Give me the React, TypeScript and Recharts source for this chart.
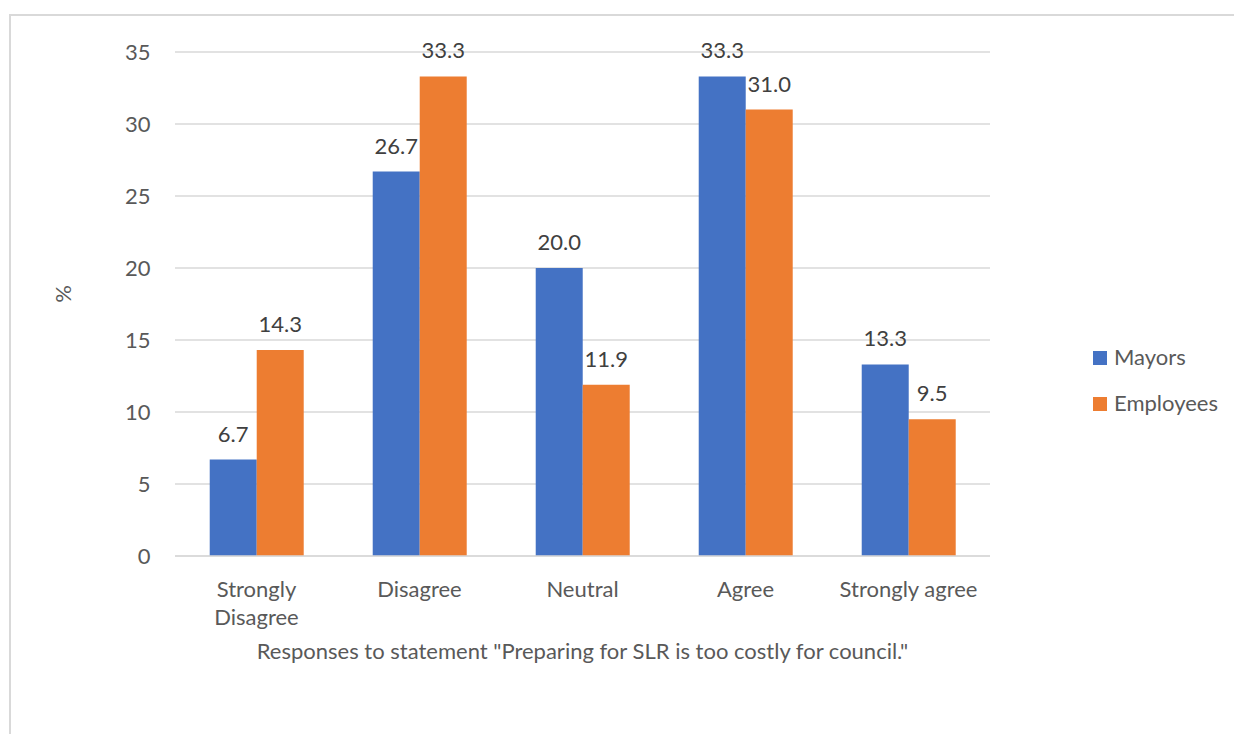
import { Bar, BarChart, CartesianGrid, LabelList, Legend, XAxis, YAxis } from "recharts";

const categories = ["Strongly Disagree", "Disagree", "Neutral", "Agree", "Strongly agree"];
const mayors = [6.7, 26.7, 20.0, 33.3, 13.3];
const employees = [14.3, 33.3, 11.9, 31.0, 9.5];
const yTicks = [0, 5, 10, 15, 20, 25, 30, 35];

const seriesOrder = ["Mayors", "Employees"];
const xTitle = 'Responses to statement "Preparing for SLR is too costly for council."';
const yTitle = "%";

const data = categories.map((name, i) => ({
  name,
  mayors: mayors[i],
  employees: employees[i],
}));

const FONT = "Lato, 'Open Sans', sans-serif";
const FS = 22;
const AXIS_TEXT = "#595959";
const LABEL_TEXT = "#404040";
const GRID = "#d9d9d9";
const BLUE = "#4472C4";
const ORANGE = "#ED7D31";

let measureCtx: CanvasRenderingContext2D | null = null;
function textWidth(s: string) {
  if (!measureCtx) measureCtx = document.createElement("canvas").getContext("2d");
  if (!measureCtx) return s.length * FS * 0.5;
  measureCtx.font = `${FS}px ${FONT}`;
  return measureCtx.measureText(s).width;
}

// greedy word wrap, like the category band would do
function wrapWords(label: string, maxWidth: number) {
  const lines: string[] = [];
  let cur = "";
  for (const w of label.split(" ")) {
    const next = cur ? `${cur} ${w}` : w;
    if (cur && textWidth(next) > maxWidth) {
      lines.push(cur);
      cur = w;
    } else {
      cur = next;
    }
  }
  if (cur) lines.push(cur);
  return lines;
}

function CategoryTick(props: any) {
  const { x, y, payload } = props;
  const lines = wrapWords(String(payload.value), 158);
  return (
    <text x={x} y={y} textAnchor="middle" fill={AXIS_TEXT} fontSize={FS} fontFamily={FONT}>
      {lines.map((line, i) => (
        <tspan key={i} x={x} dy={i === 0 ? "0.71em" : 28}>
          {line}
        </tspan>
      ))}
    </text>
  );
}

function PercentLabel(props: any) {
  const vb = props.viewBox;
  const cx = vb.x + 62;
  const cy = vb.y + vb.height / 2 - 10;
  return (
    <text
      x={cx}
      y={cy}
      transform={`rotate(-90, ${cx}, ${cy})`}
      textAnchor="middle"
      dominantBaseline="central"
      fill={AXIS_TEXT}
      fontSize={FS}
      fontFamily={FONT}
    >
      {yTitle}
    </text>
  );
}

function SideLegend(props: any) {
  const items = [...(props.payload || [])].sort(
    (a: any, b: any) => seriesOrder.indexOf(a.value) - seriesOrder.indexOf(b.value)
  );
  return (
    <div style={{ fontFamily: FONT, fontSize: FS, color: AXIS_TEXT }}>
      {items.map((item: any) => (
        <div key={item.value} style={{ display: "flex", alignItems: "center", height: 46 }}>
          <span
            style={{
              display: "inline-block",
              width: 14,
              height: 14,
              background: item.color,
              marginRight: 7,
              marginTop: 3,
            }}
          />
          <span>{item.value}</span>
        </div>
      ))}
    </div>
  );
}

export default function App() {
  return (
    <div style={{ position: "relative", width: 1234, height: 734, overflow: "hidden", background: "#fff" }}>
      <style>{"body{margin:0;overflow:hidden}"}</style>
      <div
        style={{
          position: "absolute",
          left: 9,
          top: 14,
          width: 1300,
          height: 800,
          borderLeft: `2px solid ${GRID}`,
          borderTop: `2px solid ${GRID}`,
        }}
      />
      <div style={{ position: "absolute", left: 0, top: 0 }}>
        <BarChart
          width={1234}
          height={734}
          data={data}
          margin={{ top: 52, right: 244, bottom: 68, left: 0 }}
          barCategoryGap="21.3%"
          barGap={0}
        >
          <CartesianGrid vertical={false} stroke={GRID} strokeWidth={1.3} />
          <XAxis
            dataKey="name"
            height={110}
            tickLine={false}
            axisLine={{ stroke: GRID, strokeWidth: 1.3 }}
            tickMargin={19}
            tick={<CategoryTick />}
            interval={0}
            label={{
              value: xTitle,
              position: "insideBottom",
              offset: 7,
              fill: AXIS_TEXT,
              fontSize: FS,
              fontFamily: FONT,
            }}
          />
          <YAxis
            width={175}
            domain={[0, 35]}
            ticks={yTicks}
            tickLine={false}
            axisLine={false}
            tickMargin={18.5}
            tick={{ fill: AXIS_TEXT, fontSize: FS, fontFamily: FONT }}
            label={<PercentLabel />}
          />
          {/* centered + middle keeps the legend from shrinking the plot; it is then placed by hand */}
          <Legend
            layout="vertical"
            align="center"
            verticalAlign="middle"
            content={<SideLegend />}
            wrapperStyle={{ left: 1093, top: 333, right: "auto", width: 140 }}
          />
          <Bar dataKey="mayors" name="Mayors" fill={BLUE} isAnimationActive={false}>
            <LabelList
              dataKey="mayors"
              position="top"
              offset={18}
              fill={LABEL_TEXT}
              fontSize={FS}
              fontFamily={FONT}
              formatter={(v: any) => Number(v).toFixed(1)}
            />
          </Bar>
          <Bar dataKey="employees" name="Employees" fill={ORANGE} isAnimationActive={false}>
            <LabelList
              dataKey="employees"
              position="top"
              offset={18}
              fill={LABEL_TEXT}
              fontSize={FS}
              fontFamily={FONT}
              formatter={(v: any) => Number(v).toFixed(1)}
            />
          </Bar>
        </BarChart>
      </div>
    </div>
  );
}
